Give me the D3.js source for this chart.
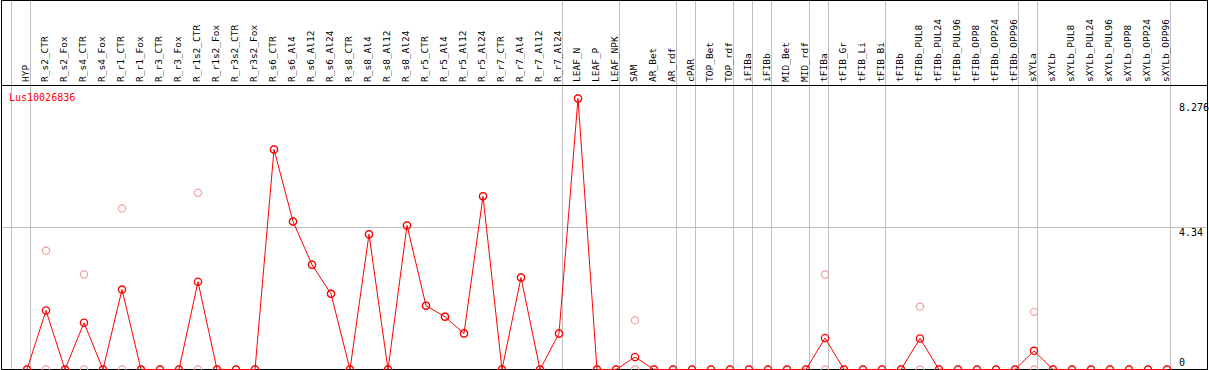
<!DOCTYPE html>
<html>
<head>
<meta charset="utf-8">
<script src="https://cdn.jsdelivr.net/npm/d3@7"></script>
<style>
html,body{margin:0;padding:0;background:#fff;}
svg{display:block;}
text{font-family:"DejaVu Sans Mono",monospace;}
</style>
</head>
<body>
<svg id="chart" width="1209" height="370"></svg>
<script>
const geneName = "Lus10026836";

const categories = ["HYP","R_s2_CTR","R_s2_Fox","R_s4_CTR","R_s4_Fox","R_r1_CTR","R_r1_Fox","R_r3_CTR","R_r3_Fox","R_r1s2_CTR","R_r1s2_Fox","R_r3s2_CTR","R_r3s2_Fox","R_s6_CTR","R_s6_Al4","R_s6_Al12","R_s6_Al24","R_s8_CTR","R_s8_Al4","R_s8_Al12","R_s8_Al24","R_r5_CTR","R_r5_Al4","R_r5_Al12","R_r5_Al24","R_r7_CTR","R_r7_Al4","R_r7_Al12","R_r7_Al24","LEAF_N","LEAF_P","LEAF_NPK","SAM","AR_Bet","AR_rdf","cPAR","TOP_Bet","TOP_rdf","iFIBa","iFIBb","MID_Bet","MID_rdf","tFIBa","tFIB_Gr","tFIB_Li","tFIB_Bi","tFIBb","tFIBb_PUL8","tFIBb_PUL24","tFIBb_PUL96","tFIBb_OPP8","tFIBb_OPP24","tFIBb_OPP96","sXYLa","sXYLb","sXYLb_PUL8","sXYLb_PUL24","sXYLb_PUL96","sXYLb_OPP8","sXYLb_OPP24","sXYLb_OPP96"];

// mean expression (red line)
const meanValues = [0,1.80,0,1.43,0,2.44,0,0,0,2.68,0,0,0,6.72,4.52,3.20,2.31,0,4.13,0,4.40,1.95,1.61,1.10,5.29,0,2.81,0,1.10,8.276,0,0,0.38,0,0,0,0,0,0,0,0,0,0.96,0,0,0,0,0.95,0,0,0,0,0,0.57,0,0,0,0,0,0,0];

// replicate values (pink circles)
const replicateHigh = [0,3.63,0,2.90,0,4.92,0,0,0,5.40,0,0,0,6.72,4.52,3.20,2.31,0,4.13,0,4.40,1.95,1.61,1.10,5.29,0,2.81,0,1.10,8.276,0,0,1.50,0,0,0,0,0,0,0,0,0,2.90,0,0,0,0,1.92,0,0,0,0,0,1.76,0,0,0,0,0,0,0];
const replicateLow  = [0,0,0,0,0,0,0,0,0,0,0,0,0,6.72,4.52,3.20,2.31,0,4.13,0,4.40,1.95,1.61,1.10,5.29,0,2.81,0,1.10,8.276,0,0,0,0,0,0,0,0,0,0,0,0,0,0,0,0,0,0,0,0,0,0,0,0,0,0,0,0,0,0,0];

// group separators: first sample of each group
const groupStarts = ["HYP","R_s2_CTR","LEAF_N","SAM","cPAR","TOP_Bet","iFIBa","iFIBb","MID_Bet","tFIBa","tFIB_Gr","tFIBb","sXYLa","sXYLb"];

const tickValues = [8.276, 4.34, 0];
const gridValues = [4.34];

const W = 1209, H = 370;
const svg = d3.select("#chart");

const x = d3.scaleBand().domain(categories).range([11, 1170]).padding(0);
const px = c => x(c) + 16;
const y = d3.scaleLinear().domain([0, d3.max(meanValues)]).range([369.5, 98.5]);

// vertical group separators
const sepX = groupStarts.map(c => x(c)).concat([x.range()[1]]);
svg.append("g").selectAll("line").data(sepX).join("line")
  .attr("x1", d => Math.round(d) + 0.5).attr("x2", d => Math.round(d) + 0.5)
  .attr("y1", 0).attr("y2", H)
  .attr("stroke", "#c0c0c0").attr("stroke-width", 1);

// horizontal gridlines
svg.append("g").selectAll("line").data(gridValues).join("line")
  .attr("x1", 1).attr("x2", 1208)
  .attr("y1", d => Math.round(y(d)) + 0.5).attr("y2", d => Math.round(y(d)) + 0.5)
  .attr("stroke", "#c0c0c0").attr("stroke-width", 1);

// header line and border
svg.append("line").attr("x1", 1).attr("x2", 1208).attr("y1", 85.5).attr("y2", 85.5)
  .attr("stroke", "#000").attr("stroke-width", 1);
svg.append("rect").attr("x", 1.5).attr("y", 0.5).attr("width", 1206).attr("height", 369)
  .attr("fill", "none").attr("stroke", "#000").attr("stroke-width", 1);

// category labels (rotated)
svg.append("g").selectAll("text").data(categories).join("text")
  .attr("transform", d => `translate(${px(d) + 1.5},82) rotate(-90)`)
  .attr("text-anchor", "start")
  .attr("font-size", "9.5px")
  .attr("fill", "#000")
  .text(d => d);

// right-side value labels
svg.append("g").selectAll("text").data(tickValues).join("text")
  .attr("x", 1179)
  .attr("y", (d, i) => y(d) + (i === 0 ? 12.5 : (d === 0 ? -4 : 8.5)))
  .attr("font-size", "10px")
  .attr("fill", "#000")
  .text(d => String(d));

// gene title
svg.append("text").attr("x", 9).attr("y", 101).attr("font-size", "10px")
  .attr("fill", "#ff0000").text(geneName);

// replicate circles (pink)
const reps = [];
categories.forEach((c, i) => {
  reps.push({c, v: replicateHigh[i]});
  reps.push({c, v: replicateLow[i]});
});
svg.append("g").selectAll("circle").data(reps).join("circle")
  .attr("cx", d => px(d.c)).attr("cy", d => y(d.v)).attr("r", 3.6)
  .attr("fill", "none").attr("stroke", "#f0a0a0").attr("stroke-width", 1.2);

// mean line
const pts = categories.map((c, i) => ({c, v: meanValues[i]}));
svg.append("path").datum(pts)
  .attr("d", d3.line().x(d => px(d.c)).y(d => y(d.v)))
  .attr("fill", "none").attr("stroke", "#ff0000").attr("stroke-width", 1);

svg.append("g").selectAll("circle").data(pts).join("circle")
  .attr("cx", d => px(d.c)).attr("cy", d => y(d.v)).attr("r", 3.6)
  .attr("fill", "none").attr("stroke", "#ff0000").attr("stroke-width", 1.3);
</script>
</body>
</html>
